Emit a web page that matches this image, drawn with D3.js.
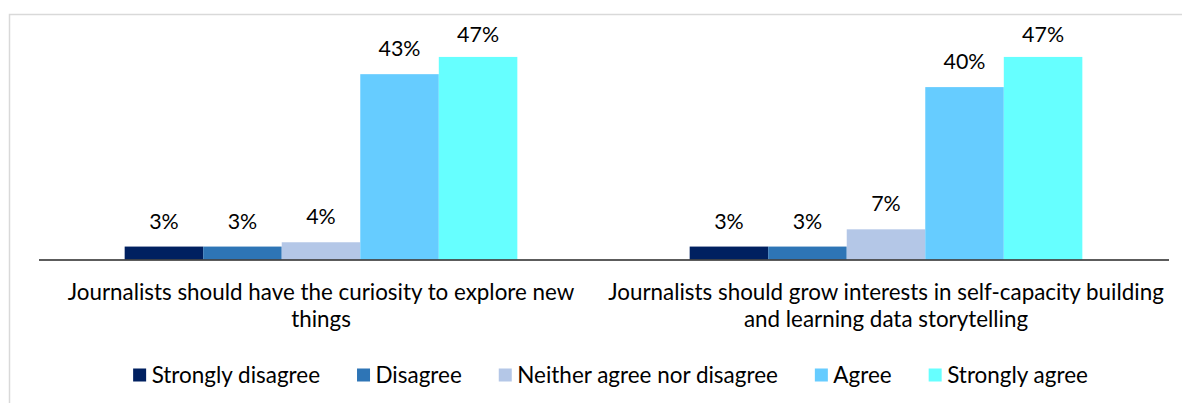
<!DOCTYPE html>
<html>
<head>
<meta charset="utf-8">
<script src="https://cdn.jsdelivr.net/npm/d3@7"></script>
<style>
  html, body { margin: 0; padding: 0; background: #ffffff; }
  svg { display: block; }
  text { font-family: Lato, "Noto Sans", "Open Sans", sans-serif; fill: #000; }
</style>
</head>
<body>
<svg id="chart" width="1182" height="403"></svg>
<script>
// ---- data ----
const categories = [
  "Journalists should have the curiosity to explore new things",
  "Journalists should grow interests in self-capacity building and learning data storytelling"
];
const seriesNames = ["Strongly disagree", "Disagree", "Neither agree nor disagree", "Agree", "Strongly agree"];
const stronglyDisagree = [0.03, 0.03];
const disagree = [0.03, 0.03];
const neither = [0.04, 0.07];
const agree = [0.43, 0.40];
const stronglyAgree = [0.47, 0.47];
const seriesColors = ["#002060", "#2E75B6", "#B4C7E7", "#66CCFF", "#66FFFF"];

const seriesValues = [stronglyDisagree, disagree, neither, agree, stronglyAgree];

const W = 1182, H = 403;
const svg = d3.select("#chart");

svg.append("rect").attr("x", 0).attr("y", 0).attr("width", W).attr("height", H).attr("fill", "#fff");
// chart border (extends beyond the visible area on right/bottom)
svg.append("rect")
  .attr("x", 9.5).attr("y", 14.5).attr("width", 1400).attr("height", 600)
  .attr("fill", "none").attr("stroke", "#d9d9d9").attr("stroke-width", 1.5);

// font fitting helper: measure text at 20px and scale to target width
function fitSize(str, target) {
  const t = svg.append("text").attr("font-size", 20).text(str);
  const w = t.node().getComputedTextLength();
  t.remove();
  return 20 * target / w;
}
const catFont = fitSize("Journalists should have the curiosity to explore new", 507);
const legFont = fitSize("Strongly disagree", 168.5);
const valFont = fitSize("47%", 42);

const x0 = d3.scaleBand().domain(categories).range([38.5, 1168.5]).paddingInner(0.305).paddingOuter(0.1525);
const x1 = d3.scaleBand().domain(seriesNames).range([0, x0.bandwidth()]).padding(0);
const y = d3.scaleLinear().domain([0, 0.5]).range([259.5, 44]);

const groups = svg.append("g").selectAll("g")
  .data(categories)
  .join("g")
  .attr("transform", d => `translate(${x0(d)},0)`);

const fmt = d3.format(".0%");

groups.each(function(cat, ci) {
  const g = d3.select(this);
  const rows = seriesNames.map((s, si) => ({ s, si, v: seriesValues[si][ci] }));
  g.selectAll("rect").data(rows).join("rect")
    .attr("x", d => x1(d.s))
    .attr("y", d => y(d.v))
    .attr("width", x1.bandwidth())
    .attr("height", d => y(0) - y(d.v))
    .attr("fill", d => seriesColors[d.si]);
  g.selectAll("text.val").data(rows).join("text")
    .attr("class", "val")
    .attr("x", d => x1(d.s) + x1.bandwidth() / 2)
    .attr("y", d => Math.max(y(d.v) - 18, 42.3))
    .attr("text-anchor", "middle")
    .attr("font-size", valFont)
    .text(d => fmt(d.v));
});

// x axis
const xAxis = d3.axisBottom(x0).tickSize(0).tickFormat("");
const ax = svg.append("g").attr("transform", `translate(0,${y(0)})`).call(xAxis);
ax.select(".domain").attr("stroke", "#262626").attr("stroke-width", 1.5);

// category labels with wrapping
const lineH = 26.7;
categories.forEach(cat => {
  const words = cat.split(" ");
  const maxW = x0.step() - 4;
  const t = svg.append("text")
    .attr("text-anchor", "middle")
    .attr("font-size", catFont)
    .attr("x", x0(cat) + x0.bandwidth() / 2)
    .attr("y", 300);
  let lines = [];
  let cur = [];
  const probe = svg.append("text").attr("font-size", catFont);
  words.forEach(w => {
    const test = cur.concat([w]).join(" ");
    probe.text(test);
    if (probe.node().getComputedTextLength() > maxW && cur.length) {
      lines.push(cur.join(" "));
      cur = [w];
    } else {
      cur.push(w);
    }
  });
  if (cur.length) lines.push(cur.join(" "));
  probe.remove();
  lines.forEach((ln, i) => {
    t.append("tspan")
      .attr("x", x0(cat) + x0.bandwidth() / 2)
      .attr("y", 300 + i * lineH)
      .text(ln);
  });
});

// legend
const legend = svg.append("g");
const sq = 13, sqGap = 5.5, itemGap = 37;
const widths = seriesNames.map(s => {
  const t = svg.append("text").attr("font-size", legFont).text(s);
  const w = t.node().getComputedTextLength();
  t.remove();
  return sq + sqGap + w;
});
const total = d3.sum(widths) + itemGap * (seriesNames.length - 1);
let lx = 610.5 - total / 2;
seriesNames.forEach((s, i) => {
  const item = legend.append("g").attr("transform", `translate(${lx},0)`);
  item.append("rect").attr("x", 0).attr("y", 368.5).attr("width", sq).attr("height", sq)
    .attr("fill", seriesColors[i]);
  item.append("text").attr("x", sq + sqGap).attr("y", 382.5)
    .attr("font-size", legFont).text(s);
  lx += widths[i] + itemGap;
});
</script>
</body>
</html>
